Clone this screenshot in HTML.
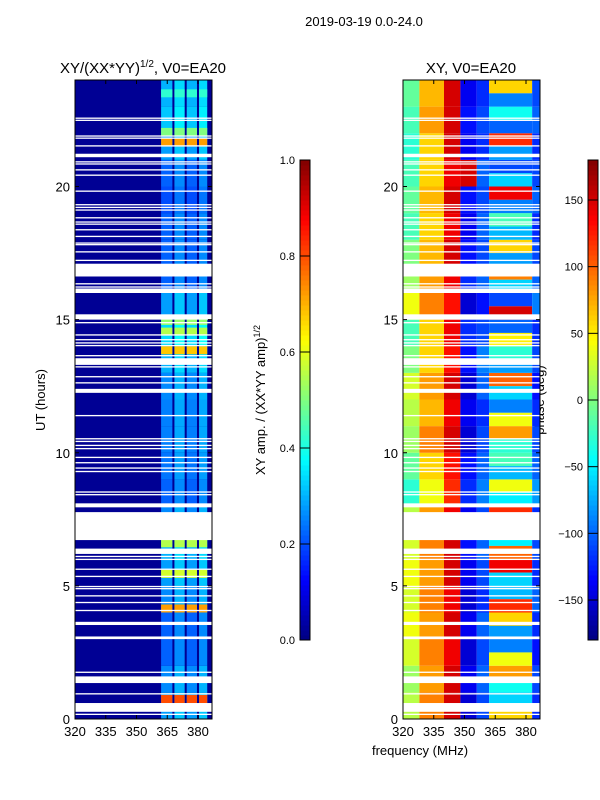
<!DOCTYPE html>
<html><head><meta charset="utf-8"><style>
body{margin:0;background:#fff;width:600px;height:800px;overflow:hidden}
svg{display:block;font-family:"Liberation Sans",sans-serif}
</style></head><body>
<svg id="fig" width="600" height="800">
<text x="364" y="26" font-size="13" text-anchor="middle">2019-03-19 0.0-24.0</text>
<text x="143" y="73" font-size="15" text-anchor="middle">XY/(XX*YY)<tspan font-size="10" dy="-6">1/2</tspan><tspan dy="6">, V0=EA20</tspan></text>
<text x="471" y="73" font-size="15" text-anchor="middle">XY, V0=EA20</text>
<text transform="translate(45,400) rotate(-90)" font-size="13" text-anchor="middle">UT (hours)</text>
<text x="420" y="755" font-size="13" text-anchor="middle">frequency (MHz)</text>
<text transform="translate(265,400) rotate(-90)" font-size="13" text-anchor="middle">XY amp. / (XX*YY amp)<tspan font-size="9" dy="-5">1/2</tspan></text>
<text transform="translate(544,400) rotate(-90)" font-size="13" text-anchor="middle">phase (deg)</text>
<g id="left"></g>
<g id="right"></g>
<g id="cb"></g>
<g id="axes"></g>
</svg>
<script>
// ---- data ----
const freqTicks = [320, 335, 350, 365, 380];
const utTicks = [0, 5, 10, 15, 20];
const ampTicks = [0.0, 0.2, 0.4, 0.6, 0.8, 1.0];
const phaseTicks = [-150, -100, -50, 0, 50, 100, 150];
// gaps in UT (start, end)
const gapStart = [0.15,0.27,0.92,1.35,1.73,3.0,3.53,4.05,4.35,4.6,4.87,4.95,5.33,5.6,5.97,6.08,6.2,6.72,7.95,8.4,8.5,9.27,9.4,9.6,9.8,10.13,10.25,10.4,10.5,11.37,12.25,12.6,12.83,13.2,13.3,13.62,14.0,14.1,14.22,14.4,14.86,15.0,16.0,16.2,16.32,16.62,17.2,17.52,17.8,17.86,18.1,18.35,18.57,18.65,18.8,19.1,19.2,19.3,19.8,20.4,20.6,20.83,20.9,21.1,21.5,21.8,21.88,22.47,22.55];
const gapEnd =   [0.2,0.6,0.97,1.6,1.78,3.1,3.65,4.1,4.4,4.65,4.92,5.0,5.38,5.65,6.02,6.13,6.4,7.77,8.1,8.45,8.55,9.32,9.45,9.65,9.85,10.18,10.3,10.45,10.55,11.42,12.4,12.65,12.88,13.25,13.55,13.67,14.05,14.15,14.27,14.45,14.91,15.2,16.17,16.25,16.37,17.1,17.25,17.57,17.84,17.9,18.15,18.4,18.61,18.69,18.85,19.14,19.24,19.34,19.85,20.45,20.65,20.87,20.95,21.23,21.55,21.84,21.92,22.51,22.59];
// amplitude: frequency bands (MHz) and per-hour band amplitude
const ampBandLo = [362, 368.5, 374.5, 380.5];
const ampBandHi = [367.5, 373.5, 379.5, 384.5];
const ampHourly = [0.28,0.26,0.22,0.22,0.26,0.28,0.3,0.26,0.22,0.24,0.25,0.25,0.26,0.3,0.34,0.28,0.22,0.22,0.22,0.2,0.22,0.28,0.32,0.3];
const ampBackground = 0.02;
const hotUT = [0.75, 4.15, 5.45, 6.6, 13.85, 14.55, 14.95, 21.65, 22.05, 23.5];
const hotAmp = [0.8, 0.72, 0.58, 0.55, 0.68, 0.55, 0.52, 0.72, 0.5, 0.42];
// phase: bands and per-hour phase (deg)
const phBandLo = [320, 328, 340, 348, 356, 362, 383];
const phBandHi = [328, 340, 348, 356, 362, 383, 387];
const ph0 = [20,10,30,40,30,40,30,20,-30,-10,10,20,30,0,-20,40,10,0,-20,-10,-20,-30,-20,-10];
const ph1 = [90,80,90,80,90,80,90,80,40,60,90,70,80,60,60,90,80,70,60,70,60,60,80,70];
const ph2 = [150,150,140,150,140,150,150,140,120,130,150,140,150,130,140,130,140,150,140,150,140,150,150,150];
const ph3 = [-150,-140,-150,-140,-150,-140,-130,-140,-120,-130,-150,-140,-150,-130,-120,-150,-120,-130,-140,-130,150,-140,-130,-140];
const ph4 = [-110,-100,-110,-100,-120,-110,-100,-110,-90,-100,-110,-120,-100,-90,-110,-130,-100,-110,-100,-110,-100,-120,-110,-120];
const ph5 = [60,-40,40,-80,120,-60,100,-90,-50,-70,-30,40,-60,-80,50,150,-60,-80,-70,-90,-60,-80,-100,-90];
const ph5b = [-60,80,-90,60,-70,140,-50,120,40,-20,80,-90,100,-30,-100,-110,90,60,-20,140,-110,120,-40,60];
const ph6 = [-120,-110,-130,-120,-100,-120,-110,-120,-80,-100,-110,-120,-130,-110,-120,-90,-100,-110,-120,-100,-110,-120,-100,-110];
const phBands = [ph0, ph1, ph2, ph3, ph4, ph5, ph6];

// ---- helpers ----
const NS = "http://www.w3.org/2000/svg";
function jet(v){v=Math.max(0,Math.min(1,v));const c=t=>Math.round(255*Math.max(0,Math.min(1,1.5-Math.abs(4*v-t))));return `rgb(${c(3)},${c(2)},${c(1)})`;}
function mk(tag, attrs, parent){const e=document.createElementNS(NS,tag);for(const k in attrs)e.setAttribute(k,attrs[k]);parent.appendChild(e);return e;}
const Y0=719, Y1=80;
const yU = u => Y0 - (u/24)*(Y0-Y1);
function xF(x0){return f => x0 + (f-320)*2.05;}
const xL = xF(75), xR = xF(403);
const FMAX = 386.7;

// ---- left amplitude ----
const gl = document.getElementById('left');
let r = mk('rect',{x:75,y:Y1,width:xL(FMAX)-75,height:Y0-Y1,fill:jet(ampBackground)},gl);


for(let h=0;h<24;h++){
  for(let b=0;b<ampBandLo.length;b++){
    const c = mk('rect',{x:xL(ampBandLo[b]),y:yU(h+1),width:xL(ampBandHi[b])-xL(ampBandLo[b]),height:yU(h)-yU(h+1),fill:jet(ampHourly[h]+(b%2?0.04:0))},gl);
    
    
  }
}
for(let i=0;i<hotUT.length;i++){
  for(let b=0;b<ampBandLo.length;b++){
    const c = mk('rect',{x:xL(ampBandLo[b]),y:yU(hotUT[i]+0.15),width:xL(ampBandHi[b])-xL(ampBandLo[b]),height:yU(hotUT[i]-0.15)-yU(hotUT[i]+0.15),fill:jet(hotAmp[i])},gl);
    
    
  }
}
// ---- right phase ----
const gr = document.getElementById('right');
for(let h=0;h<24;h++){
  for(let b=0;b<phBandLo.length;b++){
    const x=xR(phBandLo[b]), w=xR(phBandHi[b])-x;
    if(b===5){
      const c1 = mk('rect',{x:x,y:yU(h+1),width:w,height:(yU(h)-yU(h+1))/2,fill:jet((ph5b[h]+180)/360)},gr);
      
      
      const c2 = mk('rect',{x:x,y:yU(h+0.5),width:w,height:(yU(h)-yU(h+1))/2,fill:jet((ph5[h]+180)/360)},gr);
      
      
    } else {
      const c = mk('rect',{x:x,y:yU(h+1),width:w,height:yU(h)-yU(h+1),fill:jet((phBands[b][h]+180)/360)},gr);
      
      
    }
  }
}
// ---- gaps ----
for(let i=0;i<gapStart.length;i++){
  for(const x0 of [75,403]){
    const g = mk('rect',{x:x0,y:yU(gapEnd[i]),width:137,height:Math.max(1.3,yU(gapStart[i])-yU(gapEnd[i])),fill:'#fff'},x0===75?gl:gr);
    
    
  }
}
// ---- axes ----
const ga = document.getElementById('axes');
for(const x0 of [75,403]){
  const fr = mk('rect',{x:x0,y:Y1,width:137,height:Y0-Y1,fill:'none',stroke:'#000','stroke-width':1},ga);
  
  
  const xf = xF(x0);
  freqTicks.forEach(f=>{
    mk('line',{x1:xf(f),x2:xf(f),y1:Y0,y2:Y0-4,stroke:'#000'},ga);
    mk('line',{x1:xf(f),x2:xf(f),y1:Y1,y2:Y1+4,stroke:'#000'},ga);
    const t = mk('text',{x:xf(f),y:Y0+17,'font-size':13,'text-anchor':'middle'},ga);
    t.textContent=f;
    
    
  });
  utTicks.forEach(u=>{
    mk('line',{x1:x0,x2:x0+4,y1:yU(u),y2:yU(u),stroke:'#000'},ga);
    mk('line',{x1:x0+137,x2:x0+133,y1:yU(u),y2:yU(u),stroke:'#000'},ga);
    const t = mk('text',{x:x0-5,y:yU(u)+5,'font-size':13,'text-anchor':'end'},ga);
    t.textContent=u;
    
    
  });
}
// ---- colorbars ----
const gc = document.getElementById('cb');
const CB0=640, CB1=160;
for(let i=0;i<96;i++){
  const v=i/96;
  mk('rect',{x:300,y:CB0-(i+1)*5,width:10,height:5.5,fill:jet(v+1/192)},gc);
  mk('rect',{x:588,y:CB0-(i+1)*5,width:10,height:5.5,fill:jet(v+1/192)},gc);
}
for(const x0 of [300,588]){
  const f = mk('rect',{x:x0,y:CB1,width:10,height:CB0-CB1,fill:'none',stroke:'#000'},gc);
  
  
}
ampTicks.forEach(v=>{
  const y = CB0 - v*(CB0-CB1);
  mk('line',{x1:300,x2:310,y1:y,y2:y,stroke:'#000'},gc);
  const t = mk('text',{x:295,y:y+4,'font-size':11,'text-anchor':'end'},gc);
  t.textContent=v.toFixed(1);
  
  
});
phaseTicks.forEach(v=>{
  const y = CB0 - (v+180)/360*(CB0-CB1);
  mk('line',{x1:588,x2:598,y1:y,y2:y,stroke:'#000'},gc);
  const t = mk('text',{x:583,y:y+4,'font-size':11,'text-anchor':'end'},gc);
  t.textContent=v<0?'\u2212'+(-v):v;
  
  
});
</script>
</body></html>
